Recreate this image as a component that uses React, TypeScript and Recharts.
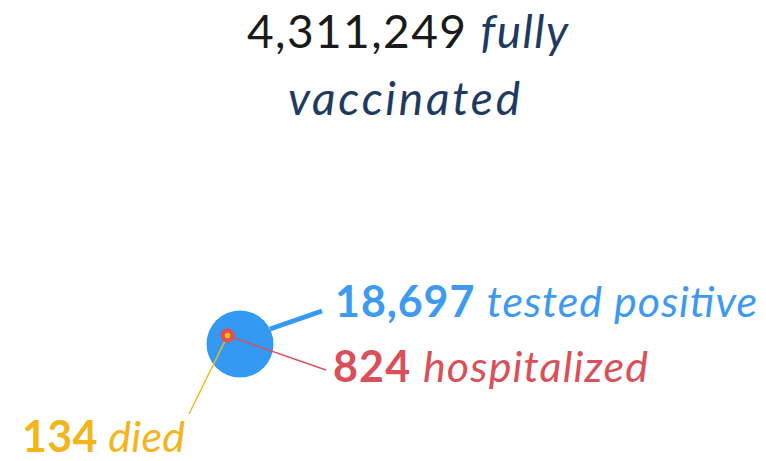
import { Cell, Scatter, ScatterChart, XAxis, YAxis, ZAxis } from 'recharts';

// Cifras del gráfico
const vacunados = 4311249;
const categorias = ['tested positive', 'hospitalized', 'died'];
const conteos = [18697, 824, 134];
const colores = ['#3399f3', '#dc5058', '#f5b914'];
const coloresTexto = ['#3d9af0', '#d9505a', '#f2b51c'];

// Posición de cada burbuja en el lienzo (unidades de los ejes)
const posX = [240, 227.5, 227.5];
const posY = [344, 335.5, 335.5];

// Líneas guía: desde la burbuja hasta la etiqueta
const guias = [
  { desde: { x: 270, y: 329 }, hasta: { x: 322, y: 311 }, ancho: 5 },
  { desde: { x: 228, y: 336 }, hasta: { x: 326, y: 370 }, ancho: 1.5 },
  { desde: { x: 227, y: 337 }, hasta: { x: 189, y: 414 }, ancho: 1.5 },
];

// Etiquetas: inicio, línea base y ancho total
const etiquetas = [
  { x: 335, y: 317, ancho: 422 },
  { x: 333, y: 382, ancho: 315 },
  { x: 22, y: 452, ancho: 163 },
];

const ANCHO = 766;
const ALTO = 461;
const RADIO_MAX = 33.5;

const datos = categorias.map((c, i) => ({ categoria: c, x: posX[i], y: posY[i], n: conteos[i] }));

const fmt = (v: number) => v.toLocaleString('en-US');
const fuente = 'Lato, "Open Sans", sans-serif';
const nada = () => null;

export default function App() {
  return (
    <div style={{ position: 'relative', width: ANCHO, height: ALTO, background: '#fff' }}>
      <style>{`body{margin:0}`}</style>
      <ScatterChart width={ANCHO} height={ALTO} margin={{ top: 0, right: 0, bottom: 0, left: 0 }}>
        <XAxis type="number" dataKey="x" domain={[0, ANCHO]} hide />
        <YAxis type="number" dataKey="y" domain={[0, ALTO]} reversed hide />
        <ZAxis type="number" dataKey="n" domain={[0, conteos[0]]} range={[0, Math.PI * RADIO_MAX * RADIO_MAX]} />
        <Scatter data={datos} shape="circle" isAnimationActive={false}>
          {datos.map((d, i) => (
            <Cell key={d.categoria} fill={colores[i]} />
          ))}
        </Scatter>
        {guias.map((g, i) => (
          <Scatter
            key={i}
            data={[g.desde, g.hasta]}
            line={{ stroke: colores[i], strokeWidth: g.ancho }}
            shape={nada}
            isAnimationActive={false}
          />
        ))}
        <Scatter data={datos.slice(1)} shape="circle" isAnimationActive={false}>
          {datos.slice(1).map((d, i) => (
            <Cell key={d.categoria} fill={colores[i + 1]} />
          ))}
        </Scatter>
      </ScatterChart>
      <svg
        width={ANCHO}
        height={ALTO}
        style={{ position: 'absolute', left: 0, top: 0, pointerEvents: 'none' }}
        fontFamily={fuente}
      >
        <text x={247} y={48} fontSize={46} textLength={321} lengthAdjust="spacing">
          <tspan fill="#1a1a1a">{fmt(vacunados)} </tspan>
          <tspan fill="#1f3a5f" fontStyle="italic">fully</tspan>
        </text>
        <text
          x={288}
          y={115}
          fontSize={46}
          fill="#1f3a5f"
          fontStyle="italic"
          textLength={232}
          lengthAdjust="spacing"
        >
          vaccinated
        </text>
        {etiquetas.map((e, i) => (
          <text key={i} x={e.x} y={e.y} fontSize={43} textLength={e.ancho} lengthAdjust="spacing">
            <tspan fill={coloresTexto[i]} fontWeight={700}>{fmt(conteos[i])} </tspan>
            <tspan fill={coloresTexto[i]} fontStyle="italic">{categorias[i]}</tspan>
          </text>
        ))}
      </svg>
    </div>
  );
}
